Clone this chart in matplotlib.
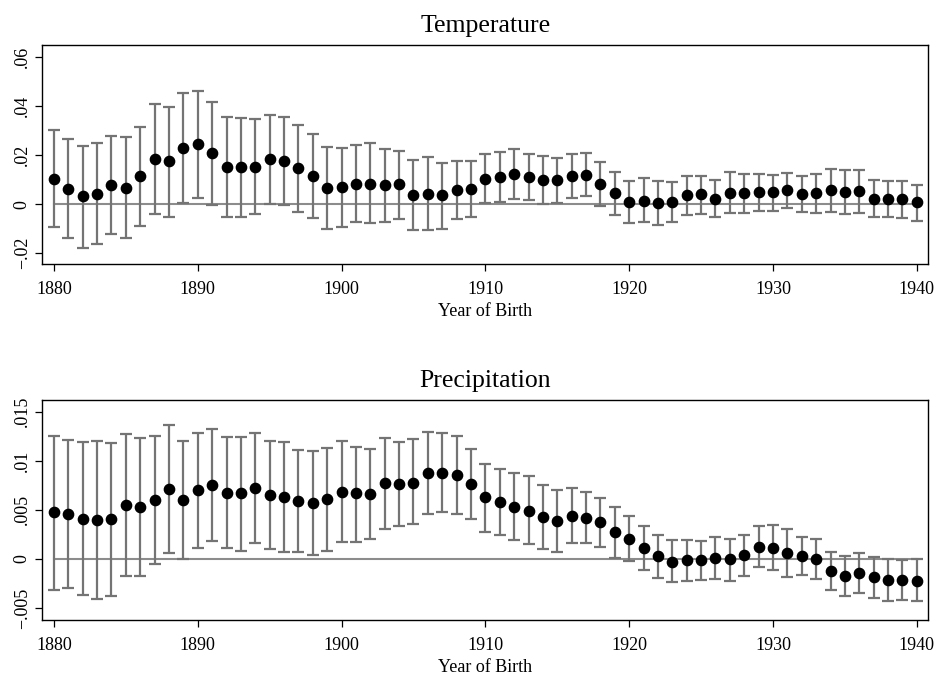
import matplotlib
matplotlib.use("Agg")
import matplotlib.pyplot as plt
import numpy as np

plt.rcParams['font.family'] = ['Liberation Serif', 'DejaVu Serif']

years = list(range(1880, 1941))

temp_est = [0.0103, 0.0064, 0.0033, 0.0041, 0.0080, 0.0067, 0.0114, 0.0185, 0.0176, 0.0229,
            0.0245, 0.0208, 0.0152, 0.0152, 0.0152, 0.0185, 0.0176, 0.0150, 0.0115, 0.0068,
            0.0069, 0.0083, 0.0083, 0.0079, 0.0082, 0.0039, 0.0042, 0.0039, 0.0060, 0.0063,
            0.0105, 0.0113, 0.0124, 0.0113, 0.0098, 0.0098, 0.0117, 0.0121, 0.0084, 0.0045,
            0.0010, 0.0015, 0.0005, 0.0008, 0.0039, 0.0041, 0.0023, 0.0048, 0.0044, 0.0050,
            0.0049, 0.0057, 0.0042, 0.0046, 0.0057, 0.0052, 0.0053, 0.0023, 0.0023, 0.0022,
            0.0008]
temp_hi = [0.0303, 0.0268, 0.0238, 0.0249, 0.0280, 0.0273, 0.0316, 0.0408, 0.0399, 0.0454,
           0.0463, 0.0419, 0.0355, 0.0352, 0.0347, 0.0366, 0.0355, 0.0325, 0.0286, 0.0235,
           0.0231, 0.0242, 0.0249, 0.0227, 0.0218, 0.0180, 0.0193, 0.0170, 0.0177, 0.0177,
           0.0207, 0.0212, 0.0224, 0.0205, 0.0195, 0.0190, 0.0207, 0.0211, 0.0171, 0.0131,
           0.0097, 0.0106, 0.0095, 0.0090, 0.0114, 0.0117, 0.0098, 0.0131, 0.0122, 0.0125,
           0.0120, 0.0128, 0.0114, 0.0125, 0.0143, 0.0140, 0.0140, 0.0098, 0.0095, 0.0094,
           0.0080]
temp_lo = [-0.0094, -0.0139, -0.0178, -0.0162, -0.0120, -0.0139, -0.0087, -0.0038, -0.0052, 0.0007,
           0.0024, -0.0005, -0.0050, -0.0053, -0.0041, 0.0000, -0.0004, -0.0030, -0.0058, -0.0102,
           -0.0091, -0.0072, -0.0078, -0.0072, -0.0060, -0.0105, -0.0106, -0.0099, -0.0060, -0.0054,
           0.0004, 0.0010, 0.0022, 0.0018, 0.0001, 0.0004, 0.0024, 0.0035, -0.0007, -0.0042,
           -0.0076, -0.0073, -0.0084, -0.0073, -0.0042, -0.0041, -0.0054, -0.0037, -0.0037, -0.0026,
           -0.0027, -0.0014, -0.0033, -0.0037, -0.0030, -0.0038, -0.0037, -0.0052, -0.0050, -0.0057,
           -0.0067]

prec_est = [0.00475, 0.00454, 0.00407, 0.00397, 0.00403, 0.00553, 0.00529, 0.00600, 0.00712, 0.00600,
            0.00698, 0.00753, 0.00675, 0.00668, 0.00722, 0.00651, 0.00634, 0.00590, 0.00566, 0.00607,
            0.00681, 0.00668, 0.00661, 0.00770, 0.00763, 0.00776, 0.00875, 0.00875, 0.00858, 0.00766,
            0.00634, 0.00583, 0.00529, 0.00492, 0.00424, 0.00386, 0.00437, 0.00420, 0.00376, 0.00271,
            0.00207, 0.00115, 0.00031, -0.00027, -0.00014, -0.00014, 0.00010, -0.00003, 0.00037, 0.00122,
            0.00115, 0.00064, 0.00034, 0.00003, -0.00122, -0.00176, -0.00146, -0.00186, -0.00214, -0.00214,
            -0.00220]
prec_hi = [0.01254, 0.01210, 0.01193, 0.01203, 0.01180, 0.01271, 0.01227, 0.01254, 0.01363, 0.01200,
           0.01285, 0.01319, 0.01237, 0.01244, 0.01281, 0.01200, 0.01186, 0.01105, 0.01102, 0.01125,
           0.01197, 0.01142, 0.01119, 0.01234, 0.01193, 0.01217, 0.01295, 0.01278, 0.01251, 0.01122,
           0.00969, 0.00919, 0.00871, 0.00847, 0.00749, 0.00702, 0.00725, 0.00685, 0.00624, 0.00525,
           0.00441, 0.00336, 0.00247, 0.00190, 0.00190, 0.00183, 0.00227, 0.00203, 0.00241, 0.00336,
           0.00349, 0.00302, 0.00227, 0.00207, 0.00071, 0.00031, 0.00061, 0.00024, -0.00003, -0.00010,
           -0.00003]
prec_lo = [-0.00315, -0.00298, -0.00363, -0.00410, -0.00376, -0.00170, -0.00170, -0.00047, 0.00058, 0.00000,
           0.00112, 0.00183, 0.00112, 0.00085, 0.00166, 0.00098, 0.00075, 0.00068, 0.00041, 0.00085,
           0.00176, 0.00176, 0.00200, 0.00305, 0.00332, 0.00353, 0.00454, 0.00478, 0.00458, 0.00410,
           0.00275, 0.00244, 0.00190, 0.00149, 0.00105, 0.00068, 0.00159, 0.00159, 0.00122, 0.00010,
           -0.00024, -0.00115, -0.00197, -0.00231, -0.00224, -0.00217, -0.00207, -0.00220, -0.00176, -0.00085,
           -0.00115, -0.00180, -0.00163, -0.00200, -0.00315, -0.00380, -0.00349, -0.00397, -0.00430, -0.00414,
           -0.00424]

x_ticks = [1880, 1890, 1900, 1910, 1920, 1930, 1940]
temp_yticks = [-0.02, 0, 0.02, 0.04, 0.06]
temp_ylabels = ['\u2212.02', '0', '.02', '.04', '.06']
prec_yticks = [-0.005, 0, 0.005, 0.01, 0.015]
prec_ylabels = ['\u2212.005', '0', '.005', '.01', '.015']

W, H = 936, 677
fig = plt.figure(figsize=(W / 100, H / 100), dpi=100)
ax1 = fig.add_axes([42.3 / W, 1 - 264.3 / H, 886 / W, 219.3 / H])
ax2 = fig.add_axes([42.3 / W, 1 - 620.3 / H, 886 / W, 220.3 / H])

GRAY = '#747474'

def draw(ax, est, lo, hi, title, yticks, ylabels, ylim):
    yrs = np.array(years)
    est = np.array(est); lo = np.array(lo); hi = np.array(hi)
    ax.plot([years[0], years[-1]], [0, 0], color='#8c8c8c', lw=1.5, zorder=1)
    ax.errorbar(yrs, est, yerr=[est - lo, hi - est], fmt='none', ecolor=GRAY,
                elinewidth=1.6, capsize=4.2, capthick=1.6, zorder=2)
    ax.plot(yrs, est, 'o', color='black', markersize=7.4, zorder=3)
    ax.set_xlim(1879.19, 1940.8)
    ax.set_ylim(*ylim)
    ax.set_xticks(x_ticks)
    ax.set_xticklabels([str(t) for t in x_ticks], fontsize=13)
    ax.set_yticks(yticks)
    ax.set_yticklabels(ylabels, fontsize=13, rotation=90, va='center')
    ax.tick_params(direction='out', length=5.3, width=0.9)
    ax.tick_params(axis='x', pad=6.5)
    ax.tick_params(axis='y', pad=3)
    ax.set_xlabel('Year of Birth', fontsize=13, labelpad=4)
    ax.set_title(title, fontsize=18.5, pad=9.5)
    for s in ax.spines.values():
        s.set_linewidth(1.0)
        s.set_color('black')

draw(ax1, temp_est, temp_lo, temp_hi, 'Temperature', temp_yticks, temp_ylabels, (-0.0245, 0.065))
draw(ax2, prec_est, prec_lo, prec_hi, 'Precipitation', prec_yticks, prec_ylabels, (-0.00624, 0.01617))

fig.savefig('out.png', dpi=100)
